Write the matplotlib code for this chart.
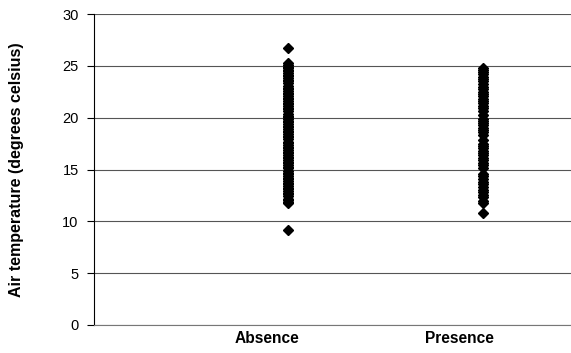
import matplotlib.pyplot as plt

plt.rcParams['font.family'] = ['Liberation Sans', 'DejaVu Sans']

# Air temperature readings, grouped by absence / presence
categories = ["Absence", "Presence"]
absence_temps = [26.7, 25.3, 25.1, 24.9, 24.8, 24.6, 24.5, 24.3, 24.1, 24.0, 23.8,
                 23.6, 23.5, 23.3, 23.1, 22.9, 22.8, 22.6, 22.4, 22.3, 22.1, 21.9,
                 21.8, 21.6, 21.4, 21.3, 21.1, 20.9, 20.8, 20.6, 20.4, 20.2, 20.1,
                 19.9, 19.7, 19.6, 19.4, 19.2, 19.1, 18.9, 18.7, 18.6, 18.4, 18.2,
                 18.1, 17.9, 17.7, 17.6, 17.4, 17.2, 17.1, 16.9, 16.7, 16.6, 16.4,
                 16.2, 16.1, 15.9, 15.7, 15.6, 15.4, 15.2, 15.1, 14.9, 14.7, 14.6,
                 14.4, 14.2, 14.1, 13.9, 13.7, 13.6, 13.4, 13.2, 13.1, 12.9, 12.7,
                 12.6, 12.4, 12.2, 12.1, 11.9, 11.8, 9.2]
presence_temps = [24.8, 24.6, 24.4, 24.2, 23.9, 23.7, 23.5, 23.2, 23.0, 22.8, 22.5,
                  22.3, 22.1, 21.8, 21.6, 21.4, 21.1, 20.9, 20.6, 20.3, 19.9, 19.7,
                  19.5, 19.3, 19.0, 18.8, 18.6, 18.3, 17.8, 17.5, 17.3, 17.1, 16.8,
                  16.6, 16.4, 16.1, 15.9, 15.6, 15.4, 15.1, 14.6, 14.4, 14.1, 13.8,
                  13.6, 13.3, 13.0, 12.8, 12.5, 12.3, 12.0, 11.8, 10.8]
y_ticks = [0, 5, 10, 15, 20, 25, 30]

fig = plt.figure(figsize=(5.71, 3.53), dpi=100)
ax = fig.add_axes([94 / 571, 1 - 325 / 353, 1 - 94 / 571, (325 - 14) / 353])

for xpos, temps in zip([1, 2], [absence_temps, presence_temps]):
    ax.plot([xpos] * len(temps), temps, linestyle='none', marker='D',
            markersize=5.0, color='black', zorder=3)

ax.set_xlim(0.005, 2.451)
ax.set_ylim(0, 30)
ax.set_yticks(y_ticks)
ax.set_xticks([0.89, 1.88])
ax.set_xticklabels(categories, fontsize=11.2, fontweight='bold')
ax.tick_params(axis='x', length=0, pad=4)
ax.tick_params(axis='y', direction='out', length=5, width=0.8, labelsize=10.5, pad=6)

ax.grid(True, axis='y', color='#555555', linewidth=0.8)
ax.set_axisbelow(True)
for side in ['top', 'right']:
    ax.spines[side].set_visible(False)
ax.spines['left'].set_linewidth(0.8)
ax.spines['bottom'].set_color('#777777')
ax.spines['bottom'].set_linewidth(0.8)

ax.set_ylabel("Air temperature (degrees celsius)", fontsize=11.5,
              fontweight='bold')
ax.yaxis.set_label_coords(-0.147, 0.5)

fig.savefig("out.png", dpi=100)
